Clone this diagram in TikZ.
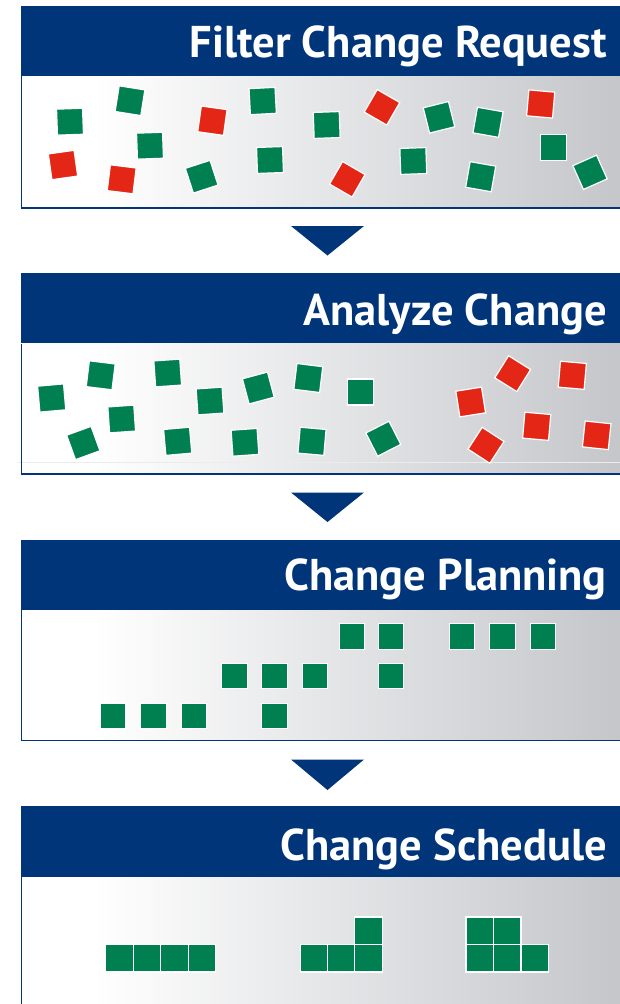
\documentclass[tikz,border=0pt]{standalone}
\usepackage{fontspec}
\setmainfont{PT Sans}
\definecolor{navy}{RGB}{0,53,122}
\definecolor{sqgreen}{RGB}{0,128,80}
\definecolor{sqred}{RGB}{228,38,22}
\definecolor{bodygray}{RGB}{196,198,202}
\pgfdeclarehorizontalshading{bodyshade}{100bp}{color(0bp)=(white); color(25bp)=(white); color(31bp)=(white); color(75bp)=(bodygray); color(100bp)=(bodygray)}
\tikzset{
  header/.style={fill=navy},
  body/.style={shading=bodyshade},
  bodyline/.style={draw=navy, line width=1.6pt},
  title/.style={anchor=base east, text=white, inner sep=0pt, font=\fontsize{44.5}{44.5}\selectfont\bfseries},
  sq/.style={rectangle, draw=white, line width=1.2pt, minimum size=26pt, inner sep=0pt},
  g/.style={sq, fill=sqgreen},
  r/.style={sq, fill=sqred},
  tri/.style={fill=navy}
}
\begin{document}
\begin{tikzpicture}[x=1pt,y=-1pt]
\useasboundingbox (0,0) rectangle (619,1004);
% ---------- panel 1
\fill[header] (20.5,6) rectangle (622,76);
\path[body] (21,76) rectangle (622,208);
\draw[bodyline] (21.3,76) -- (21.3,208) -- (622,208);
\node[title] (t1) at (607,57.3) {Filter Change Request};
\node[g, rotate=2]   (a1)  at (70,121.7) {};
\node[g, rotate=-9]  (a2)  at (130,100.7) {};
\node[r, rotate=8]   (a3)  at (63,165) {};
\node[g, rotate=2]   (a4)  at (150,145.7) {};
\node[r, rotate=-7]  (a5)  at (121.7,179.3) {};
\node[r, rotate=-8]  (a6)  at (212.4,120.7) {};
\node[g, rotate=18]  (a7)  at (201.7,176.7) {};
\node[g, rotate=3]   (a8)  at (262.7,101) {};
\node[g, rotate=2]   (a9)  at (270,160) {};
\node[g, rotate=2]   (a10) at (326.7,125) {};
\node[r, rotate=-30] (a11) at (347.3,179.3) {};
\node[r, rotate=-30] (a12) at (382,107.3) {};
\node[g, rotate=2]   (a13) at (413.3,161) {};
\node[g, rotate=14]  (a14) at (439,117.3) {};
\node[g, rotate=-10] (a15) at (488,122.3) {};
\node[g, rotate=-10] (a16) at (480.7,176.7) {};
\node[r, rotate=-5]  (a17) at (540.7,104) {};
\node[g, rotate=0]   (a18) at (553.3,147.3) {};
\node[g, rotate=24]  (a19) at (590,172.3) {};
% arrow 1
\fill[tri] (291,226) -- (364,226) -- (327.5,255.5) -- cycle;
% ---------- panel 2
\fill[header] (20.5,273) rectangle (622,343.5);
\path[body] (21,343.5) rectangle (622,474);
\draw[white!85!gray, line width=0.6pt] (18,462.3) -- (622,462.3);
\draw[bodyline] (21.3,343.5) -- (21.3,474) -- (622,474);
\node[title] (t2) at (607,325) {Analyze Change};
\node[g, rotate=5]   (b1)  at (51.7,398) {};
\node[g, rotate=-7]  (b2)  at (100.7,375.3) {};
\node[g, rotate=4]   (b3)  at (167.7,373) {};
\node[g, rotate=4]   (b4)  at (121.7,419) {};
\node[g, rotate=20]  (b5)  at (83.3,443) {};
\node[g, rotate=4]   (b6)  at (210,401) {};
\node[g, rotate=5]   (b7)  at (177.7,441.3) {};
\node[g, rotate=15]  (b8)  at (258.3,388) {};
\node[g, rotate=-7]  (b9)  at (308.3,378) {};
\node[g, rotate=4]   (b10) at (245,442.3) {};
\node[g, rotate=-5]  (b11) at (312,441.3) {};
\node[g, rotate=0]   (b12) at (360.7,392) {};
\node[g, rotate=27]  (b13) at (383.3,438.7) {};
\node[r, rotate=9]   (b14) at (470.7,402) {};
\node[r, rotate=-32] (b15) at (512.7,373.7) {};
\node[r, rotate=-5]  (b16) at (572.3,375.3) {};
\node[r, rotate=-5]  (b17) at (536.7,426.3) {};
\node[r, rotate=-33] (b18) at (486,445.3) {};
\node[r, rotate=-6]  (b19) at (596.7,435.3) {};
% arrow 2
\fill[tri] (291,492.5) -- (364,492.5) -- (327.5,522) -- cycle;
% ---------- panel 3
\fill[header] (20.5,539.5) rectangle (622,610);
\path[body] (21,610) rectangle (622,740.5);
\draw[bodyline] (21.3,610) -- (21.3,740.5) -- (622,740.5);
\node[title] (t3) at (607,590) {Change Planning};
\begin{scope}[every node/.style={g, minimum size=25.5pt, line width=1pt}]
\node (c1)  at (352,636.7) {};
\node (c2)  at (391,636.7) {};
\node (c3)  at (462,636.7) {};
\node (c4)  at (502.5,636.7) {};
\node (c5)  at (543,636.7) {};
\node (c6)  at (234.5,676) {};
\node (c7)  at (274.5,676) {};
\node (c8)  at (315,676) {};
\node (c9)  at (391,676) {};
\node (c10) at (113,716) {};
\node (c11) at (153.5,716) {};
\node (c12) at (194,716) {};
\node (c13) at (274.5,716) {};
\end{scope}
% arrow 3
\fill[tri] (291,759.5) -- (364,759.5) -- (327.5,790) -- cycle;
% ---------- panel 4
\fill[header] (20.5,806) rectangle (622,877);
\path[body] (21,877) rectangle (622,1010);
\draw[bodyline] (21.3,877) -- (21.3,1010);
\node[title] (t4) at (607,860) {Change Schedule};
\begin{scope}[every node/.style={g, minimum size=27.5pt, line width=1.2pt}]
\node (d1)  at (119.6,958.3) {};
\node (d2)  at (147.1,958.3) {};
\node (d3)  at (174.6,958.3) {};
\node (d4)  at (202.1,958.3) {};
\node (d5)  at (313.9,958.3) {};
\node (d6)  at (341.1,958.3) {};
\node (d7)  at (368.4,958.3) {};
\node (d8)  at (368.4,930.8) {};
\node (d9)  at (479.7,958.3) {};
\node (d10) at (507.2,958.3) {};
\node (d11) at (534.7,958.3) {};
\node (d12) at (479.7,930.8) {};
\node (d13) at (507.2,930.8) {};
\end{scope}
\end{tikzpicture}
\end{document}
